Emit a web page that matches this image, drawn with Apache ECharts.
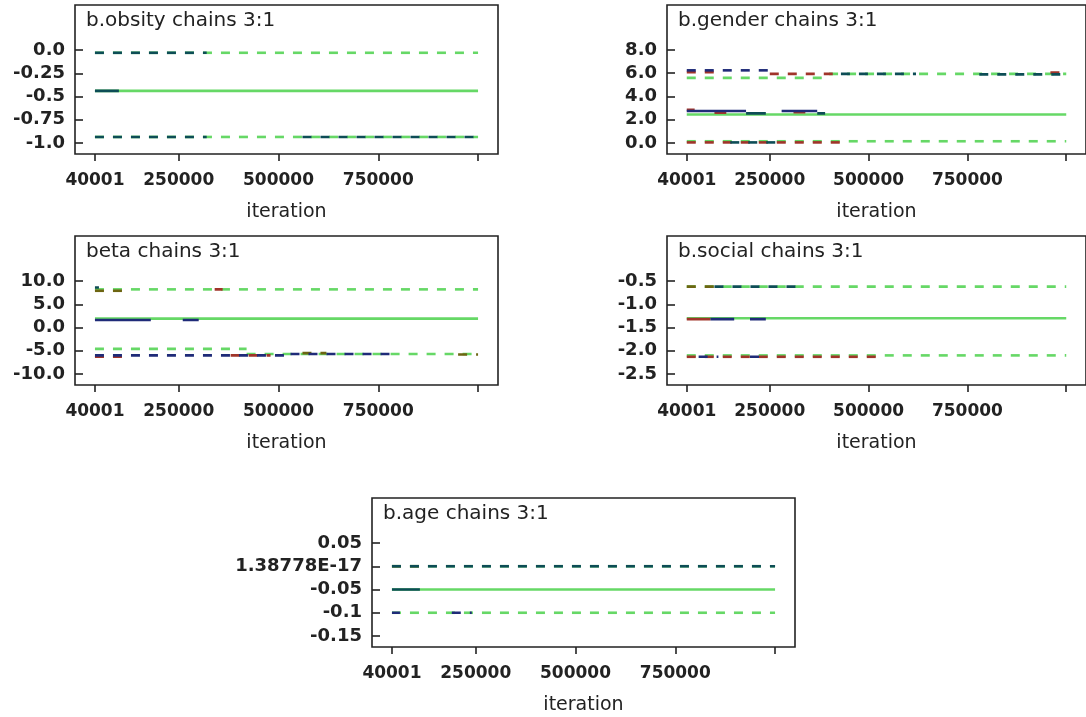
<!DOCTYPE html>
<html>
<head>
<meta charset="utf-8">
<script src="https://cdn.jsdelivr.net/npm/echarts@6/dist/echarts.min.js"></script>
<style>
  html, body { margin: 0; padding: 0; background: #fff; }
  #container { width: 1086px; height: 717px; }
</style>
</head>
<body>
<div id="container"></div>
<script>
// iteration axis
var xTicks = [40001, 250000, 500000, 750000, 1000000];
var xLabels = [40001, 250000, 500000, 750000];

var titles = ['b.obsity chains 3:1', 'b.gender chains 3:1', 'beta chains 3:1', 'b.social chains 3:1', 'b.age chains 3:1'];

var yTicks = [
  [0, -0.25, -0.5, -0.75, -1.0],
  [8, 6, 4, 2, 0],
  [10, 5, 0, -5, -10],
  [-0.5, -1.0, -1.5, -2.0, -2.5],
  [0.05, 0, -0.05, -0.1, -0.15]
];
var yLabels = [
  ['0.0', '-0.25', '-0.5', '-0.75', '-1.0'],
  ['8.0', '6.0', '4.0', '2.0', '0.0'],
  ['10.0', '5.0', '0.0', '-5.0', '-10.0'],
  ['-0.5', '-1.0', '-1.5', '-2.0', '-2.5'],
  ['0.05', '1.38778E-17', '-0.05', '-0.1', '-0.15']
];

// quantile lines: [chain, from iteration, to iteration, value]
var obsityHi = [[3, 40001, 1000000, -0.03], [1, 40001, 320000, -0.03]];
var obsityMed = [[3, 40001, 1000000, -0.44], [1, 40001, 100000, -0.44]];
var obsityLo = [[3, 40001, 1000000, -0.935], [1, 40001, 320000, -0.935], [1, 560000, 1000000, -0.935]];

var genderHi = [[3, 40001, 400000, 5.6], [3, 400000, 1000000, 5.95], [4, 40001, 250000, 6.25], [2, 40001, 120000, 6.1],
  [2, 250000, 430000, 5.95], [1, 430000, 620000, 5.95], [1, 780000, 1000000, 5.9], [2, 960000, 1000000, 6.05]];
var genderMed = [[3, 40001, 1000000, 2.45], [4, 40001, 190000, 2.75], [1, 190000, 240000, 2.55], [4, 280000, 370000, 2.75],
  [1, 370000, 390000, 2.55], [2, 40001, 60000, 2.85], [2, 110000, 140000, 2.6], [2, 310000, 340000, 2.65]];
var genderLo = [[3, 40001, 1000000, 0.15], [2, 40001, 440000, 0.05], [1, 150000, 280000, 0.05]];

var betaHi = [[3, 40001, 1000000, 8.2], [5, 40001, 110000, 7.9], [2, 340000, 360000, 8.2], [1, 40001, 50000, 8.6]];
var betaMed = [[3, 40001, 1000000, 1.9], [4, 40001, 180000, 1.6], [4, 260000, 300000, 1.6]];
var betaLo = [[3, 40001, 420000, -4.6], [3, 420000, 1000000, -5.7], [4, 40001, 530000, -6.0], [4, 530000, 800000, -5.7],
  [2, 40001, 130000, -6.3], [2, 380000, 480000, -6.0], [5, 560000, 620000, -5.5], [5, 950000, 1000000, -5.8]];

var socialHi = [[3, 40001, 1000000, -0.62], [5, 40001, 110000, -0.62], [1, 110000, 320000, -0.62]];
var socialMed = [[3, 40001, 1000000, -1.3], [2, 40001, 100000, -1.32], [4, 100000, 160000, -1.32], [4, 200000, 240000, -1.32]];
var socialLo = [[3, 40001, 1000000, -2.1], [2, 40001, 530000, -2.13], [4, 70000, 120000, -2.13], [4, 200000, 230000, -2.13]];

var ageHi = [[3, 40001, 1000000, 0], [1, 40001, 1000000, 0], [5, 40001, 110000, 0]];
var ageMed = [[3, 40001, 1000000, -0.05], [1, 40001, 110000, -0.05]];
var ageLo = [[3, 40001, 1000000, -0.1], [4, 40001, 60000, -0.1], [4, 190000, 240000, -0.1]];

var panels = [
  [obsityHi, obsityMed, obsityLo],
  [genderHi, genderMed, genderLo],
  [betaHi, betaMed, betaLo],
  [socialHi, socialMed, socialLo],
  [ageHi, ageMed, ageLo]
];

var chainColors = { 1: '#0d4d56', 2: '#a0342a', 3: '#66d866', 4: '#1f2b78', 5: '#6d6512' };
var chainOrder = [3, 5, 2, 4, 1];
var gridPos = [[75, 5], [667, 5], [75, 236], [667, 236], [372, 498]];
var font = 'DejaVu Sans';
var ink = '#222';

var dom = document.getElementById('container');
var myChart = echarts.init(dom, null, { renderer: 'canvas' });

var grid = [], xAxis = [], yAxis = [], title = [], series = [];

gridPos.forEach(function (pos, i) {
  grid.push({
    left: pos[0], top: pos[1], width: 423, height: 149,
    show: true, borderColor: ink, borderWidth: 1.6, backgroundColor: 'transparent'
  });
  title.push({
    text: titles[i], left: pos[0] + 11, top: pos[1] + 6, padding: 0,
    textStyle: { fontFamily: font, fontSize: 20, fontWeight: 'normal', color: ink }
  });
  xAxis.push({
    gridIndex: i, type: 'value', min: -10000, max: 1050000,
    axisLine: { show: false, onZero: false }, splitLine: { show: false },
    axisTick: { show: true, length: 7, customValues: xTicks, lineStyle: { color: ink, width: 1.6 } },
    axisLabel: {
      customValues: xLabels, margin: 18, fontFamily: font, fontSize: 17, fontWeight: 'bold', color: ink,
      formatter: function (v) { return String(v); }
    },
    name: 'iteration', nameLocation: 'middle', nameGap: 49,
    nameTextStyle: { fontFamily: font, fontSize: 19, color: ink }
  });
  var t = yTicks[i];
  var hi = Math.max.apply(null, t), lo = Math.min.apply(null, t), range = hi - lo;
  yAxis.push({
    gridIndex: i, type: 'value', min: lo - range * 11 / 93, max: hi + range * 45 / 93,
    axisLine: { show: false, onZero: false }, splitLine: { show: false },
    axisTick: { show: true, inside: true, length: 8, customValues: t, lineStyle: { color: ink, width: 1.6 } },
    axisLabel: {
      customValues: t, margin: 10, fontFamily: font, fontSize: 18, fontWeight: 'bold', color: ink,
      formatter: function (v) {
        for (var k = 0; k < t.length; k++) {
          if (Math.abs(t[k] - v) < range * 1e-6) return yLabels[i][k];
        }
        return '';
      }
    }
  });

  panels[i].forEach(function (segs, q) {
    var dashed = q !== 1;
    chainOrder.forEach(function (c) {
      var data = [];
      segs.forEach(function (s) {
        if (s[0] !== c) return;
        data.push([s[1], s[3]], [s[2], s[3]], [s[2], '-']);
      });
      if (!data.length) return;
      series.push({
        type: 'line', xAxisIndex: i, yAxisIndex: i, data: data,
        showSymbol: false, symbol: 'none', silent: true, connectNulls: false,
        lineStyle: { color: chainColors[c], width: 2.6, type: dashed ? [9, 9] : 'solid' }
      });
    });
  });
});

var option = {
  animation: false,
  backgroundColor: '#fff',
  title: title,
  grid: grid,
  xAxis: xAxis,
  yAxis: yAxis,
  series: series
};

myChart.setOption(option);
window.addEventListener('resize', myChart.resize);
</script>
</body>
</html>
